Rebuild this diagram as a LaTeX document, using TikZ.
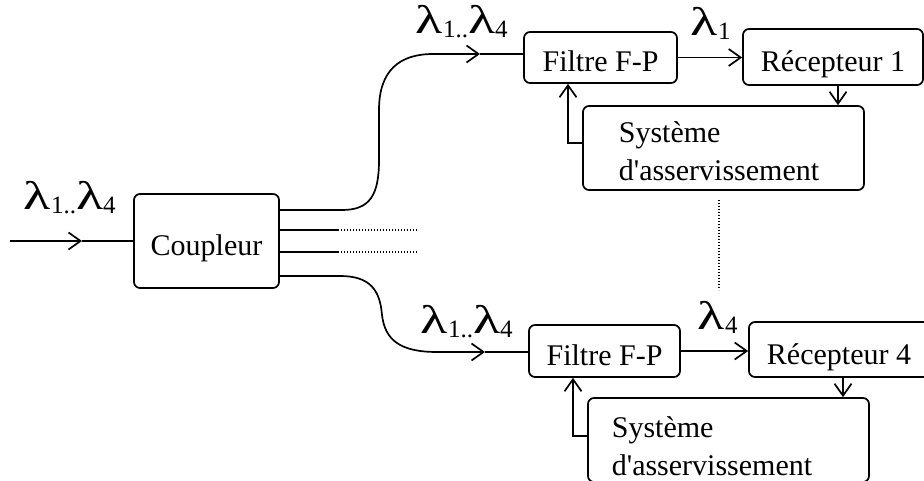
\documentclass[tikz,border=0pt]{standalone}
\usepackage{fontspec}
\setmainfont{Liberation Serif}
\usepackage{graphicx}
\usetikzlibrary{arrows.meta, calc}
\newcommand{\lam}[1]{{\fontsize{40}{40}\selectfont\scalebox{1.4}[1]{λ}}\raisebox{-4pt}{\fontsize{25}{25}\selectfont #1}}

\begin{document}
\begin{tikzpicture}[x=1pt, y=-1pt, line width=1.7pt, >={Straight Barb[length=12pt,width=17pt]},
                    bloc/.style={draw, rounded corners=6pt, inner sep=0pt, text height=29pt, text depth=0pt, font=\fontsize{30}{36}\selectfont},
                    sysbox/.style={draw, rounded corners=6pt, inner sep=0pt, minimum width=281pt, minimum height=84pt},
                    systxt/.style={anchor=north west, align=left, inner sep=0pt, font=\fontsize{30}{38}\selectfont},
                    lab/.style={anchor=base west, inner sep=0pt}]
                      \useasboundingbox (0,0) rectangle (924,481);
                      \node[bloc, minimum width=145pt, minimum height=94pt] (coup) at (206.5,241) {Coupleur};
                      \node[bloc, minimum width=153pt, minimum height=51pt] (filtreA) at (600.5,57.5) {Filtre F-P};
                      \node[bloc, minimum width=180pt, minimum height=56pt] (recA) at (833,57) {Récepteur 1};
                      \node[sysbox] (sysA) at (723.5,148) {};
                      \node[systxt] (sysAt) at (618,121) {Système\\d\textquotesingle asservissement};
                      \node[bloc, minimum width=151pt, minimum height=52pt] (filtreB) at (604.5,351) {Filtre F-P};
                      \node[bloc, minimum width=180pt, minimum height=55pt] (recB) at (839,349.5) {Récepteur 4};
                      \node[sysbox] (sysB) at (728.5,440) {};
                      \node[systxt] (sysBt) at (611,416) {Système\\d\textquotesingle asservissement};
                      \node[lab] (labin) at (23,210) {\lam{1..}\lam{4}};
                      \node[lab] (labA) at (415,34) {\lam{1..}\lam{4}};
                      \node[lab] (labB) at (420,333) {\lam{1..}\lam{4}};
                      \node[lab] (labA1) at (690,36) {\lam{1}};
                      \node[lab] (labB4) at (697,329) {\lam{4}};
                      \coordinate (in) at (10,241);
                      \coordinate (inarr) at (82,241);
                      \coordinate (tA) at (480,54);
                      \coordinate (tB) at (485,352);
                      \coordinate (dA) at ($(recA.south)+(5,0)$);
                      \coordinate (dB) at ($(recB.south)+(4,0)$);
                      \coordinate (fA) at ($(filtreA.south)+(-32.5,0)$);
                      \coordinate (fB) at ($(filtreB.south)+(-31.5,0)$);
                      \draw[->] (in) -- (inarr);
                      \draw (inarr) -- (coup.west);
                      \draw[->] ($(coup.east)+(0,-31)$) -- (342,210) .. controls (370,210) and (379,195) .. (379,160) -- (379,110) .. controls (379,70) and (400,54) .. (433,54) -- (tA);
                      \draw (tA) -- (tA -| filtreA.west);
                      \draw[->] ($(coup.east)+(0,35)$) -- (340,276) .. controls (370,276) and (380,290) .. (382,315) .. controls (385,340) and (400,352) .. (437,352) -- (tB);
                      \draw (tB) -- (tB -| filtreB.west);
                      \draw ($(coup.east)+(0,-11)$) -- (338,230);
                      \draw ($(coup.east)+(0,11)$) -- (338,252);
                      \draw[dash pattern=on 1.2pt off 1.8pt, line width=1.2pt] (338,230) -- (417,230);
                      \draw[dash pattern=on 1.2pt off 1.8pt, line width=1.2pt] (338,252) -- (417,252);
                      \draw[dash pattern=on 1.2pt off 1.8pt, line width=1.2pt] (719,200) -- (719,290);
                      \draw[->] (filtreA.east) -- (filtreA.east -| recA.west);
                      \draw[->] (filtreB.east) -- (filtreB.east -| recB.west);
                      \draw[->] (dA) -- (dA |- sysA.north);
                      \draw[->] (dB) -- (dB |- sysB.north);
                      \draw[->] ($(sysA.west)+(0,-5)$) -| (fA);
                      \draw[->] ($(sysB.west)+(0,-4)$) -| (fB);
                  \end{tikzpicture}
\end{document}
